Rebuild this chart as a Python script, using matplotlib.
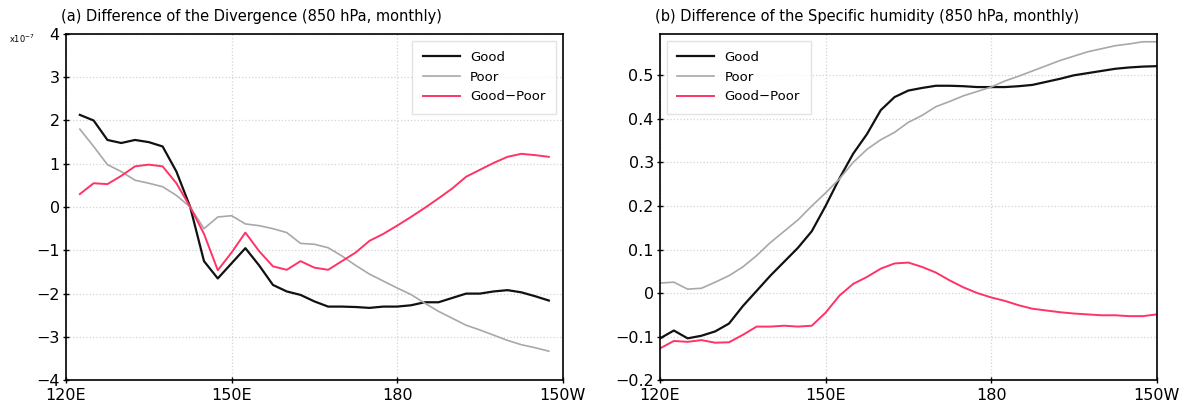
# -*- coding:utf-8 -*-
import matplotlib
matplotlib.use("Agg")
from matplotlib import pyplot as plt

# longitudes (deg E)
lon_a = [122.5, 125, 127.5, 130, 132.5, 135, 137.5, 140, 142.5, 145, 147.5, 150,
         152.5, 155, 157.5, 160, 162.5, 165, 167.5, 170, 172.5, 175, 177.5, 180,
         182.5, 185, 187.5, 190, 192.5, 195, 197.5, 200, 202.5, 205, 207.5]
lon_b = [120] + lon_a + [210]

# (a) divergence, x10^-7
div_good = [2.13, 2.0, 1.55, 1.48, 1.55, 1.5, 1.4, 0.82, 0.0, -1.25, -1.65, -1.3,
            -0.95, -1.35, -1.8, -1.95, -2.03, -2.18, -2.3, -2.3, -2.31, -2.33, -2.3, -2.3,
            -2.27, -2.2, -2.2, -2.1, -2.0, -2.0, -1.95, -1.92, -1.97, -2.06, -2.16]
div_poor = [1.8, 1.4, 0.98, 0.82, 0.62, 0.55, 0.47, 0.27, 0.0, -0.5, -0.23, -0.2,
            -0.39, -0.43, -0.5, -0.59, -0.84, -0.86, -0.94, -1.13, -1.35, -1.55, -1.71, -1.87,
            -2.02, -2.22, -2.41, -2.57, -2.73, -2.84, -2.96, -3.08, -3.18, -3.25, -3.33]
div_diff = [0.3, 0.55, 0.53, 0.72, 0.94, 0.98, 0.94, 0.55, 0.0, -0.62, -1.46, -1.05,
            -0.59, -1.02, -1.37, -1.45, -1.25, -1.4, -1.45, -1.25, -1.05, -0.78, -0.62, -0.43,
            -0.23, -0.02, 0.2, 0.43, 0.7, 0.86, 1.02, 1.16, 1.23, 1.2, 1.16]

# (b) specific humidity
q_good = [-0.104, -0.086, -0.104, -0.098, -0.088, -0.07, -0.03, 0.005, 0.04, 0.072, 0.104,
          0.142, 0.2, 0.263, 0.32, 0.365, 0.42, 0.45, 0.465, 0.471, 0.476, 0.476, 0.475,
          0.473, 0.473, 0.473, 0.475, 0.478, 0.485, 0.492, 0.5, 0.505, 0.51, 0.515, 0.518,
          0.52, 0.521]
q_poor = [0.023, 0.025, 0.009, 0.011, 0.025, 0.04, 0.06, 0.086, 0.116, 0.142, 0.168,
          0.2, 0.23, 0.262, 0.3, 0.33, 0.352, 0.369, 0.392, 0.408, 0.428, 0.44, 0.453,
          0.463, 0.473, 0.487, 0.498, 0.51, 0.522, 0.534, 0.544, 0.554, 0.561, 0.568, 0.572,
          0.577, 0.577]
q_diff = [-0.127, -0.11, -0.112, -0.108, -0.114, -0.113, -0.096, -0.077, -0.077, -0.075,
          -0.077, -0.075, -0.045, -0.006, 0.021, 0.037, 0.056, 0.068, 0.07, 0.06, 0.047,
          0.029, 0.013, 0.0, -0.01, -0.018, -0.028, -0.036, -0.04, -0.044, -0.047, -0.049,
          -0.051, -0.051, -0.053, -0.053, -0.049]

xticks = [120, 150, 180, 210]
xticklabels = ["120E", "150E", "180", "150W"]

plt.rcParams['font.family'] = ['DejaVu Sans']

fig = plt.figure(figsize=(11.88, 4.04), dpi=100)
ax1 = fig.add_axes([0.0556, 0.059, 0.418, 0.857])
ax2 = fig.add_axes([0.5556, 0.059, 0.418, 0.857])

c_good, c_poor, c_diff = "#111111", "#a8a8a8", "#ff3366"


def style(ax):
    ax.set_xlim(120, 210)
    ax.set_xticks(xticks)
    ax.set_xticklabels(xticklabels)
    ax.tick_params(direction="inout", length=5, width=1, labelsize=11.5)
    ax.tick_params(axis="x", pad=3)
    ax.tick_params(axis="y", pad=2)
    ax.grid(True, linestyle=":", color="#d4d4d4", linewidth=0.9)
    for s in ax.spines.values():
        s.set_linewidth(1.2)


ax1.plot(lon_a, div_good, color=c_good, lw=1.6, label="Good")
ax1.plot(lon_a, div_poor, color=c_poor, lw=1.2, label="Poor")
ax1.plot(lon_a, div_diff, color=c_diff, lw=1.4, label="Good\u2212Poor")
style(ax1)
ax1.set_ylim(-4, 4)
ax1.set_yticks(range(-4, 5))
ax1.set_yticklabels([str(v).replace("-", "\u2212") for v in range(-4, 5)])
ax1.text(-0.115, 0.985, "x10$^{-7}$", transform=ax1.transAxes, fontsize=6, va="center")
ax1.text(-0.01, 1.03, "(a) Difference of the Divergence (850 hPa, monthly)",
         transform=ax1.transAxes, fontsize=10.5, ha="left", va="bottom")
leg = ax1.legend(loc="upper right", fontsize=9.5, handlelength=2.8, frameon=True,
                 fancybox=False, edgecolor="#dddddd", borderpad=0.8)
leg.get_frame().set_linewidth(1.0)

ax2.plot(lon_b, q_good, color=c_good, lw=1.6, label="Good")
ax2.plot(lon_b, q_poor, color=c_poor, lw=1.2, label="Poor")
ax2.plot(lon_b, q_diff, color=c_diff, lw=1.4, label="Good\u2212Poor")
style(ax2)
ax2.set_ylim(-0.2, 0.595)
yt = [-0.2, -0.1, 0, 0.1, 0.2, 0.3, 0.4, 0.5]
ax2.set_yticks(yt)
ax2.set_yticklabels(["\u22120.2", "\u22120.1", "0", "0.1", "0.2", "0.3", "0.4", "0.5"])
ax2.text(-0.01, 1.03, "(b) Difference of the Specific humidity (850 hPa, monthly)",
         transform=ax2.transAxes, fontsize=10.5, ha="left", va="bottom")
leg = ax2.legend(loc="upper left", fontsize=9.5, handlelength=2.8, frameon=True,
                 fancybox=False, edgecolor="#dddddd", borderpad=0.8)
leg.get_frame().set_linewidth(1.0)

fig.savefig("out.png", dpi=100)
